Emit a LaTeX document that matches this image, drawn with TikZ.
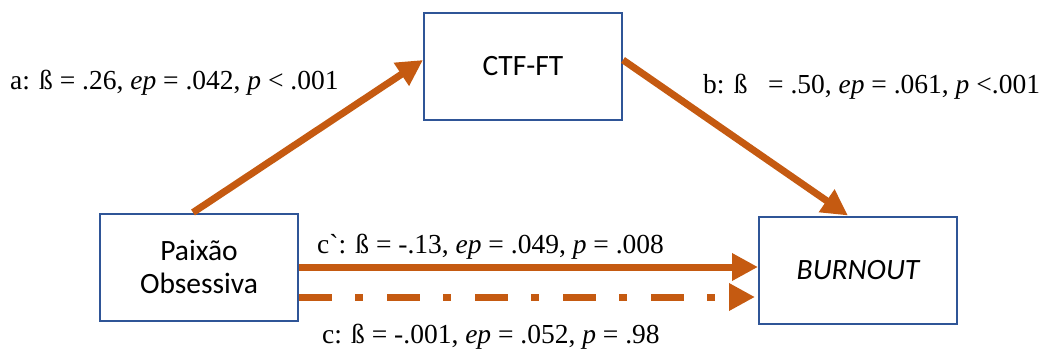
\documentclass[tikz,border=0pt]{standalone}
\usepackage{fontspec}
\setmainfont{Liberation Serif}
\newfontfamily\calibrifont{Carlito}
\usetikzlibrary{arrows.meta, positioning}
\definecolor{pathorange}{HTML}{C55A11}
\definecolor{boxblue}{HTML}{2F5597}

\begin{document}
\begin{tikzpicture}[x=1pt, y=-1pt,
    var/.style={draw=boxblue, line width=2pt, minimum width=198pt, minimum height=107pt,
      align=center, font=\calibrifont\fontsize{29.5}{33}\selectfont},
    effect/.style={draw=pathorange, line width=7pt, -{Triangle[length=26pt, width=26pt]}},
    coef/.style={font=\fontsize{27.5}{33}\selectfont, inner sep=0pt, anchor=base west}]
        \useasboundingbox (0,0) rectangle (1051,351);
        % variables
        \node[var] (ctf) at (523,66) {CTF-FT};
        \node[var] (paixao) at (199,267) {Paixão\\Obsessiva};
        \node[var] (burnout) at (858,270) {\itshape BURNOUT};
        % mediated paths
        \draw[effect] ([xshift=-6pt]paixao.north) -- ([yshift=6pt]ctf.west);
        \draw[effect] ([yshift=6pt]ctf.east) -- ([xshift=-10pt]burnout.north);
        % direct and total effect
        \draw[effect] (paixao.east) -- (paixao.east -| burnout.west);
        \coordinate (ctot) at ([yshift=-30pt]paixao.east);
        \draw[effect, dash pattern=on 33pt off 23pt on 8pt off 24pt] (ctot) -- ([xshift=-3pt]ctot -| burnout.west);
        % coefficients
        \node[coef] (la) at (10,89) {a: ß = .26, \textit{ep} = .042, \textit{p} < .001};
        \node[coef] (lb) at (703,93) {b: ß\hspace{0.75em}= .50, \textit{ep} = .061, \textit{p} <.001};
        \node[coef] (lcp) at (317,253) {c\textasciigrave: ß = -.13, \textit{ep} = .049, \textit{p} = .008};
        \node[coef] (lc) at (322,343) {c: ß = -.001, \textit{ep} = .052, \textit{p} = .98};
      \end{tikzpicture}
\end{document}
